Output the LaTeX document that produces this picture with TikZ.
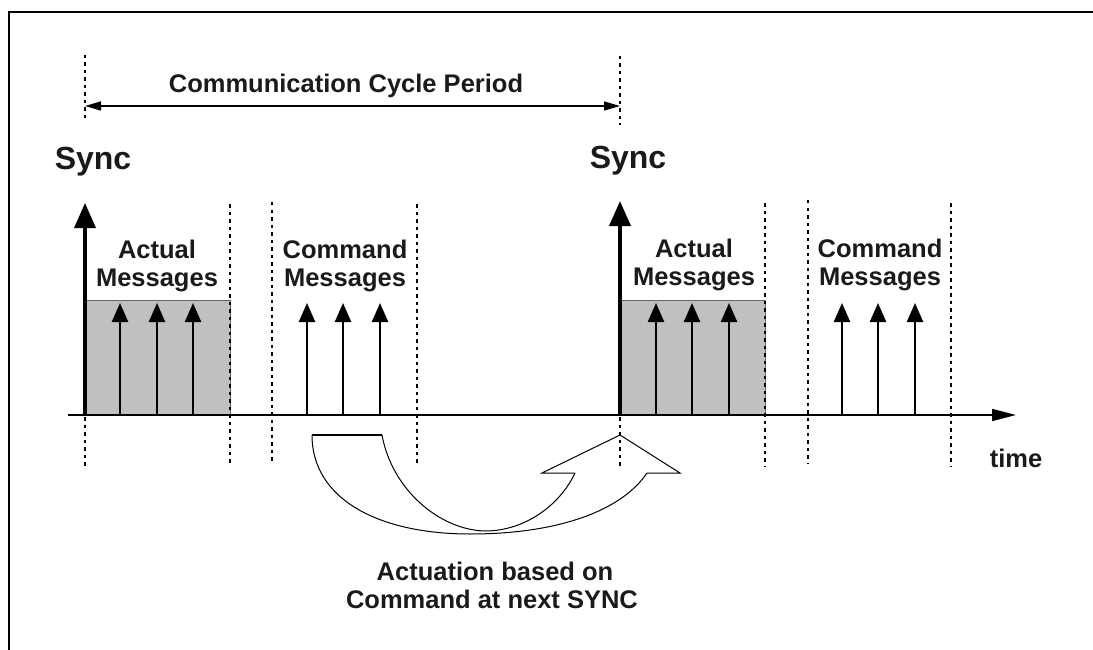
\documentclass[tikz,border=0pt]{standalone}
\usepackage{fontspec}
\setmainfont{Liberation Sans}
\usetikzlibrary{arrows.meta}

\definecolor{boxgray}{RGB}{192,192,192}
\definecolor{ink}{RGB}{26,26,26}

\tikzset{
  lbl/.style={font=\bfseries\fontsize{25.5}{28.5}\selectfont, text=ink, inner sep=0pt, align=center},
  synclbl/.style={font=\bfseries\fontsize{32}{36}\selectfont, text=ink, inner sep=0pt},
  guide/.style={line width=1.8pt, dash pattern=on 3.5pt off 4pt},
  frameline/.style={line width=2.6pt},
  timeaxis/.style={line width=1.8pt, -{Triangle[length=24pt,width=12pt]}},
  syncarrow/.style={line width=3.6pt, -{Triangle[length=25pt,width=21pt]}},
  msgarrow/.style={line width=2.4pt, -{Triangle[length=19pt,width=16pt]}},
  period/.style={line width=1.4pt, {Triangle[length=16pt,width=9pt]}-{Triangle[length=16pt,width=9pt]}},
  slot/.style={fill=boxgray, draw=black!60, line width=0.9pt},
  ribbon/.style={line width=1pt, line join=miter}
}

\begin{document}
\begin{tikzpicture}[x=1pt, y=-1pt]
\useasboundingbox (0,0) rectangle (1093,650);

% frame edges
\coordinate (fl) at (9,650);
\coordinate (fc) at (9,12);
\coordinate (fr) at (1093,12);
\draw[frameline] (fl) -- (fc) -- (fr);

% shaded slots of actual messages
\draw[slot] (85,415) rectangle (230,300);
\draw[slot] (620,415) rectangle (765,300);

% time axis
\coordinate (t0) at (68,415);
\coordinate (t1) at (1016,415);
\draw[timeaxis] (t0) -- (t1);

% dotted guide lines
\foreach \x/\a/\b in {85/55/120, 85/417/466, 230/204/466, 272/202/464, 417/204/466,
                      620/56/125, 620/417/466, 765/203/466, 808/200/464, 951/203/466}
  \draw[guide] (\x,\a) -- (\x,\b);

% communication cycle period
\coordinate (p0) at (85,106);
\coordinate (p1) at (620,106);
\draw[period] (p0) -- (p1);
\node[lbl, anchor=base] (ccp) at (346,93) {Communication Cycle Period};

% sync pulses
\coordinate (s1b) at (85,416);
\coordinate (s1t) at (85,203);
\coordinate (s2b) at (620,416);
\coordinate (s2t) at (620,201);
\draw[syncarrow] (s1b) -- (s1t);
\draw[syncarrow] (s2b) -- (s2t);
\node[synclbl, anchor=base] (sync1) at (93,170) {Sync};
\node[synclbl, anchor=base] (sync2) at (628,168) {Sync};

% message pulses
\foreach \x [count=\i] in {120,157,193,307,343,380,656,692,729,842,878,915} {
  \coordinate (m\i b) at (\x,415);
  \coordinate (m\i t) at (\x,303);
  \draw[msgarrow] (m\i b) -- (m\i t);
}

% slot labels
\node[lbl] (am1) at (157,266) {Actual\\Messages};
\node[lbl] (cm1) at (345,266) {Command\\Messages};
\node[lbl] (am2) at (694,265) {Actual\\Messages};
\node[lbl] (cm2) at (880,265) {Command\\Messages};

\node[lbl, anchor=base] (time) at (1016,467) {time};

% twisted block arrow from the command slot to the next sync
\coordinate (ta) at (312,435);
\coordinate (tb) at (382,435);
\coordinate (nl) at (575,473);
\coordinate (bl) at (542,473);
\coordinate (tip) at (620,435);
\coordinate (br) at (680,473);
\coordinate (nr) at (647,473);
\draw[line width=2pt] (ta) -- (tb);
\draw[ribbon] (ta) .. controls (312,500) and (380,534) .. (470,534)
                 .. controls (560,534) and (622,510) .. (nr);
\draw[ribbon] (tb) .. controls (392,490) and (440,530) .. (485,531)
                 .. controls (525,531) and (560,505) .. (nl);
\draw[ribbon] (nl) -- (bl) -- (tip) -- (br) -- (nr);

\node[lbl, anchor=base] (act1) at (495,580) {Actuation based on};
\node[lbl, anchor=base] (act2) at (492,608) {Command at next SYNC};
\end{tikzpicture}
\end{document}
